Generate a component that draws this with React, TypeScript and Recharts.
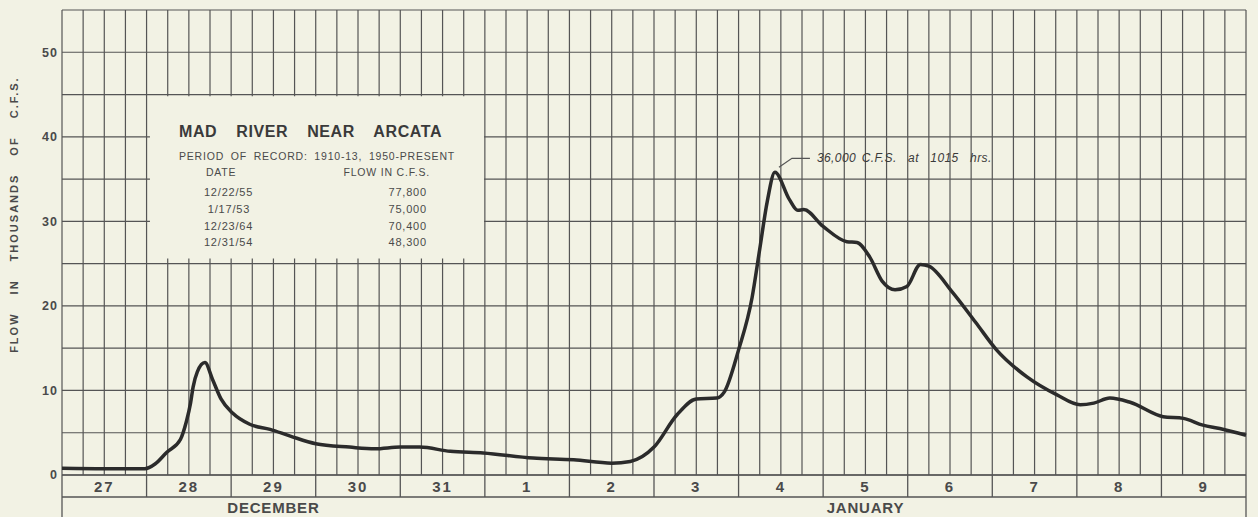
import {
  LineChart,
  Line,
  XAxis,
  YAxis,
  CartesianGrid,
  ReferenceArea,
  ReferenceDot,
} from 'recharts'

// time in days from 27 Dec 00:00, flow in thousands of c.f.s.
const DAYS = [
  0, 0.5, 0.98, 1.1, 1.24, 1.4, 1.47, 1.52, 1.55, 1.6, 1.69, 1.78, 1.88, 2.02, 2.22, 2.46,
  2.7, 3.0, 3.4, 3.7, 4.0, 4.23, 4.59, 4.98, 5.57, 6.05, 6.5, 6.72, 7.0, 7.27, 7.5, 7.74,
  7.83, 8.0, 8.16, 8.25, 8.34, 8.43, 8.6, 8.7, 8.77, 9.0, 9.28, 9.4, 9.55, 9.7, 9.85, 9.99,
  10.15, 10.25, 10.53, 10.8, 11.05, 11.41, 11.76, 12.04, 12.2, 12.39, 12.63, 13.02, 13.26,
  13.49, 13.69, 14.0,
]
const FLOW = [
  0.8, 0.75, 0.75, 1.3, 2.7, 4.2, 6.3, 8.5, 10.4, 12.2, 13.3, 11.3, 9.0, 7.3, 6.0, 5.4,
  4.6, 3.7, 3.3, 3.1, 3.3, 3.3, 2.8, 2.6, 2.0, 1.8, 1.4, 1.6, 3.3, 7.1, 9.0, 9.1,
  9.8, 14.8, 21.0, 26.7, 32.4, 35.8, 32.6, 31.3, 31.4, 29.4, 27.6, 27.5, 25.8, 22.9, 21.9, 22.3,
  24.9, 24.7, 21.6, 18.1, 14.8, 11.6, 9.5, 8.3, 8.5, 9.1, 8.6, 6.9, 6.7,
  5.9, 5.5, 4.7,
]

const DAY_LABELS = ['27', '28', '29', '30', '31', '1', '2', '3', '4', '5', '6', '7', '8', '9']
const MONTHS = [
  { at: 2.5, name: 'DECEMBER' },
  { at: 9.5, name: 'JANUARY' },
]
const Y_TICKS = [0, 5, 10, 15, 20, 25, 30, 35, 40, 45, 50, 55]

const PEAK = { d: 8.43, v: 35.8 }
const PEAK_TEXT = '36,000 C.F.S.  at  1015  hrs.'

const BOX_TITLE = 'MAD RIVER NEAR ARCATA'
const BOX_PERIOD = 'PERIOD OF RECORD: 1910-13, 1950-PRESENT'
const RECORD_DATES = ['12/22/55', ' 1/17/53', '12/23/64', '12/31/54']
const RECORD_FLOWS = ['77,800', '75,000', '70,400', '48,300']

const data = DAYS.map((d, i) => ({ d, v: FLOW[i] }))
const gridTicks = Array.from({ length: 14 * 4 + 1 }, (_, i) => i / 4)

const W = 1258
const H = 517
const Y_W = 62
const M_RIGHT = 12
const DAY_W = (W - Y_W - M_RIGHT) / 14
const BG = '#f2f2e4'
const GRID = '#555'
const INK = '#4a4a4a'
const FONT = '"Liberation Sans", Arial, sans-serif'

function DayTick(props: any) {
  const { x, y, payload } = props
  const v = payload.value
  if (!Number.isInteger(v)) return <g />
  return (
    <g>
      <line x1={x} y1={y} x2={x} y2={y + 22} stroke={GRID} strokeWidth={1.3} />
      {v < DAY_LABELS.length && (
        <text
          x={x + DAY_W / 2}
          y={y + 17}
          textAnchor="middle"
          fontSize={15}
          fontWeight={600}
          letterSpacing={2}
          fill={INK}
          fontFamily={FONT}
        >
          {DAY_LABELS[v]}
        </text>
      )}
    </g>
  )
}

function MonthTick(props: any) {
  const { x, y, payload } = props
  const m = MONTHS.find((mm) => mm.at === payload.value)
  if (!m) {
    return <line x1={x} y1={y} x2={x} y2={y + 20} stroke={GRID} strokeWidth={1.3} />
  }
  return (
    <text
      x={x}
      y={y + 16}
      textAnchor="middle"
      fontSize={15}
      fontWeight={600}
      letterSpacing={0.8}
      fill={INK}
      fontFamily={FONT}
    >
      {m.name}
    </text>
  )
}

function BoxText(props: any) {
  const { x, y } = props.viewBox
  const small = { fontSize: 10.5, fill: INK, fontFamily: FONT, letterSpacing: 0.8 }
  return (
    <g>
      <text
        x={x + 29}
        y={y + 41}
        fontSize={16}
        fontWeight={600}
        letterSpacing={0.6}
        wordSpacing={14}
        fill="#3a3a3a"
        fontFamily={FONT}
      >
        {BOX_TITLE}
      </text>
      <text x={x + 29} y={y + 64} {...small} wordSpacing={3}>
        {BOX_PERIOD}
      </text>
      <text x={x + 56} y={y + 80} {...small}>DATE</text>
      <text x={x + 280} y={y + 80} {...small} textAnchor="end">FLOW IN C.F.S.</text>
      {RECORD_DATES.map((dt, i) => (
        <g key={dt}>
          <text x={x + 54} y={y + 100 + i * 16.7} {...small} fontSize={11} style={{ whiteSpace: 'pre' }}>
            {dt}
          </text>
          <text x={x + 277} y={y + 100 + i * 16.7} {...small} fontSize={11} textAnchor="end">
            {RECORD_FLOWS[i]}
          </text>
        </g>
      ))}
    </g>
  )
}

function PeakLabel(props: any) {
  const { x, y, width, height } = props.viewBox
  const cx = x + width / 2
  const cy = y + height / 2
  return (
    <g>
      <polyline
        points={`${cx + 4},${cy - 5} ${cx + 17},${cy - 14} ${cx + 35},${cy - 14}`}
        fill="none"
        stroke={GRID}
        strokeWidth={1.2}
      />
      <text
        x={cx + 42}
        y={cy - 10}
        fontSize={12}
        fontStyle="italic"
        letterSpacing={0.4}
        wordSpacing={2}
        fill="#3a3a3a"
        fontFamily={FONT}
        style={{ whiteSpace: 'pre' }}
      >
        {PEAK_TEXT}
      </text>
    </g>
  )
}

function YLabel(props: any) {
  const { x, y, height } = props.viewBox
  const cx = x + 14
  const cy = y + height * 0.44
  return (
    <text
      x={cx}
      y={cy}
      transform={`rotate(-90 ${cx} ${cy})`}
      textAnchor="middle"
      dominantBaseline="central"
      fontSize={11}
      fontWeight={600}
      letterSpacing={2}
      wordSpacing={13}
      fill={INK}
      fontFamily={FONT}
    >
      FLOW IN THOUSANDS OF C.F.S.
    </text>
  )
}

export default function App() {
  return (
    <div style={{ position: 'fixed', left: 0, top: 0, width: W, height: H, background: BG }}>
      <LineChart
        width={W}
        height={H}
        data={data}
        margin={{ top: 10, right: M_RIGHT, bottom: 0, left: 0 }}
      >
        <CartesianGrid xAxisId="main" stroke={GRID} strokeWidth={1.2} />
        <XAxis
          xAxisId="main"
          dataKey="d"
          type="number"
          domain={[0, 14]}
          ticks={gridTicks}
          interval={0}
          height={22}
          tickLine={false}
          tickSize={0}
          tickMargin={0}
          axisLine={{ stroke: GRID, strokeWidth: 1.3 }}
          tick={<DayTick />}
        />
        <XAxis
          xAxisId="month"
          dataKey="d"
          type="number"
          domain={[0, 14]}
          allowDataOverflow
          ticks={[0, ...MONTHS.map((m) => m.at), 14]}
          interval={0}
          height={20}
          tickLine={false}
          tickSize={0}
          tickMargin={0}
          axisLine={{ stroke: GRID, strokeWidth: 1.3 }}
          tick={<MonthTick />}
        />
        <YAxis
          type="number"
          domain={[0, 55]}
          ticks={Y_TICKS}
          interval={0}
          width={Y_W}
          tickLine={false}
          axisLine={false}
          tickSize={0}
          tickMargin={4}
          tickFormatter={(v: number) => (v % 10 === 0 && v <= 50 ? String(v) : '')}
          tick={{ fill: INK, fontSize: 12.5, fontWeight: 600, fontFamily: FONT, letterSpacing: 1 }}
          label={<YLabel />}
        />
        <ReferenceArea
          xAxisId="main"
          x1={1.04}
          x2={4.99}
          y1={25.6}
          y2={44.8}
          fill={BG}
          fillOpacity={1}
          stroke="none"
          label={<BoxText />}
        />
        <Line
          xAxisId="main"
          dataKey="v"
          type="monotone"
          stroke="#2b2b2b"
          strokeWidth={3.5}
          dot={false}
          isAnimationActive={false}
        />
        <ReferenceDot
          xAxisId="main"
          x={PEAK.d}
          y={PEAK.v}
          r={1}
          fill="none"
          stroke="none"
          label={<PeakLabel />}
        />
      </LineChart>
    </div>
  )
}
